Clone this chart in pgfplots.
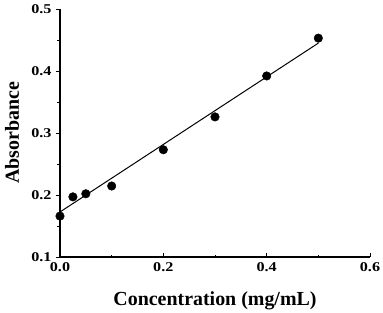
\documentclass[border=0pt]{standalone}
\usepackage{pgfplots}
\pgfplotsset{compat=1.18}
\usepackage{fontspec}
\setmainfont{Liberation Serif}
\newfontfamily\tickfont[FakeStretch=1.2]{Liberation Serif}
\begin{document}
\begin{tikzpicture}
\begin{axis}[
  scale only axis,
  width=310bp, height=248bp,
  xmin=0, xmax=0.6, ymin=0.1, ymax=0.5,
  axis lines*=left,
  axis line style={line width=1.1pt},
  xtick={0,0.2,0.4,0.6},
  ytick={0.1,0.2,0.3,0.4,0.5},
  minor xtick={0.1,0.3,0.5},
  minor ytick={0.15,0.25,0.35,0.45},
  xticklabels={0.0,0.2,0.4,0.6},
  yticklabels={0.1,0.2,0.3,0.4,0.5},
  tick label style={font=\tickfont\fontsize{13.5}{15}\selectfont\bfseries},
  xticklabel style={yshift=-2bp},
  yticklabel style={xshift=-1bp},
  x tick style={line width=1pt, black},
  y tick style={line width=1pt, black},
  xtick align=inside,
  ytick align=outside,
  major tick length=4bp,
  minor tick length=2.5bp,
  xlabel={Concentration (mg/mL)},
  ylabel={Absorbance},
  label style={font=\fontsize{20}{24}\selectfont\bfseries},
  xlabel style={at={(axis description cs:0.5,0)}, anchor=base, yshift=-48bp},
  ylabel style={at={(axis description cs:0,0.5)}, anchor=base, yshift=41bp},
  clip=false,
]
\addplot[only marks, mark=*, mark size=4.3bp, black] coordinates {
(0,0.166) (0.025,0.197) (0.05,0.202) (0.1,0.2145) (0.2,0.273) (0.3,0.326) (0.4,0.392) (0.5,0.453)
};
\addplot[black, line width=1pt, no marks] coordinates {(0,0.1726) (0.5,0.445)};
\end{axis}
\pgfresetboundingbox
\path[use as bounding box] (-60bp,-56bp) rectangle (323bp,257bp);
\end{tikzpicture}
\end{document}
